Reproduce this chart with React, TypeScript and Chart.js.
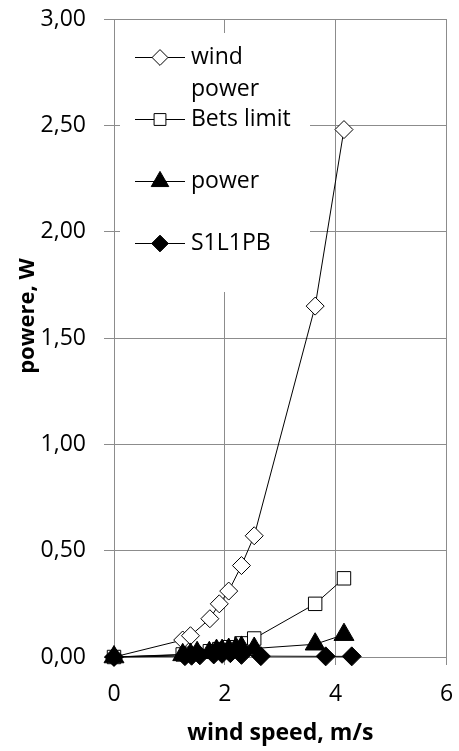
import React, { useEffect, useRef } from "react";
import { Chart, registerables } from "chart.js";
import { drawPoint } from "chart.js/helpers";

Chart.register(...registerables);

// Series values (wind speed in m/s, power in W)
const windPowerX = [0, 1.24, 1.38, 1.73, 1.9, 2.07, 2.3, 2.53, 3.63, 4.15];
const windPowerY = [0, 0.08, 0.1, 0.18, 0.25, 0.31, 0.43, 0.57, 1.65, 2.48];

const betsLimitX = [0, 1.24, 1.38, 1.73, 1.9, 2.07, 2.3, 2.53, 3.63, 4.15];
const betsLimitY = [0, 0.012, 0.015, 0.027, 0.037, 0.046, 0.064, 0.087, 0.25, 0.37];

const powerX = [0, 1.24, 1.38, 1.5, 1.72, 1.85, 1.95, 2.07, 2.2, 2.3, 2.53, 3.63, 4.15];
const powerY = [0, 0.01, 0.012, 0.02, 0.02, 0.03, 0.03, 0.035, 0.04, 0.045, 0.04, 0.06, 0.105];

const s1l1pbX = [0, 1.28, 1.4, 1.55, 1.8, 1.95, 2.1, 2.3, 2.65, 3.82, 4.29];
const s1l1pbY = [0, 0.004, 0.006, 0.008, 0.012, 0.015, 0.018, 0.01, 0.004, 0.003, 0.003];

const seriesNames = [["wind", "power"], ["Bets limit"], ["power"], ["S1L1PB"]];

const xTicks = [0, 2, 4, 6];
const yTicks = [0, 0.5, 1, 1.5, 2, 2.5, 3];

const xTitle = "wind speed, m/s";
const yTitle = "powere, W";

const FONT = "'Open Sans', Lato, sans-serif";
const GRID = "#8c8c8c";

const toPoints = (xs: number[], ys: number[]) => xs.map((x, i) => ({ x, y: ys[i] }));

// Boxed legend drawn inside the plot area, plus the rotated y-axis title
const overlayPlugin = {
  id: "overlay",
  afterDatasetsDraw(chart: any) {
    const ctx = chart.ctx as CanvasRenderingContext2D;
    ctx.save();
    ctx.fillStyle = "#ffffff";
    ctx.fillRect(120, 33, 190, 259);
    chart.data.datasets.forEach((ds: any, i: number) => {
      const cy = 57 + i * 62;
      ctx.strokeStyle = "#000";
      ctx.lineWidth = 1;
      ctx.beginPath();
      ctx.moveTo(135, cy + 0.5);
      ctx.lineTo(185, cy + 0.5);
      ctx.stroke();
      ctx.fillStyle = ds.pointBackgroundColor;
      ctx.strokeStyle = ds.pointBorderColor;
      drawPoint(
        ctx,
        { pointStyle: ds.pointStyle, radius: ds.pointRadius * 0.88, borderWidth: 1, rotation: 0 } as any,
        160,
        cy + 0.5
      );
      ctx.fillStyle = "#000";
      ctx.font = `23px ${FONT}`;
      ctx.textAlign = "left";
      ctx.textBaseline = "alphabetic";
      seriesNames[i].forEach((line, k) => {
        ctx.fillText(line, 191, cy + 7 + k * 32);
      });
    });
    ctx.restore();
  },
  afterDraw(chart: any) {
    const ctx = chart.ctx as CanvasRenderingContext2D;
    ctx.save();
    ctx.translate(28, 316);
    ctx.rotate(-Math.PI / 2);
    ctx.fillStyle = "#000";
    ctx.font = `bold 22px ${FONT}`;
    ctx.textAlign = "center";
    ctx.textBaseline = "middle";
    ctx.fillText(yTitle, 0, 0);
    ctx.restore();
  },
};

export default function App() {
  const canvasRef = useRef<HTMLCanvasElement | null>(null);

  useEffect(() => {
    if (!canvasRef.current) return;
    const common = {
      showLine: true,
      clip: false,
      borderColor: "#000",
      borderWidth: 1,
      pointBorderColor: "#000",
      pointBorderWidth: 1,
      pointHoverRadius: 0,
    };
    const chart = new Chart(canvasRef.current, {
      type: "scatter",
      data: {
        datasets: [
          {
            ...common,
            label: seriesNames[0].join(" "),
            data: toPoints(windPowerX, windPowerY),
            pointStyle: "rectRot",
            pointRadius: 9,
            pointBackgroundColor: "#fff",
            order: 3,
          },
          {
            ...common,
            label: seriesNames[1].join(" "),
            data: toPoints(betsLimitX, betsLimitY),
            pointStyle: "rect",
            pointRadius: 9.5,
            pointBackgroundColor: "#fff",
            order: 2,
          },
          {
            ...common,
            label: seriesNames[2].join(" "),
            data: toPoints(powerX, powerY),
            pointStyle: "triangle",
            pointRadius: 11.5,
            pointBackgroundColor: "#000",
            order: 1,
          },
          {
            ...common,
            label: seriesNames[3].join(" "),
            data: toPoints(s1l1pbX, s1l1pbY),
            pointStyle: "rectRot",
            pointRadius: 9.5,
            pointBackgroundColor: "#000",
            order: 0,
          },
        ] as any,
      },
      options: {
        animation: false,
        responsive: true,
        maintainAspectRatio: false,
        events: [],
        layout: { padding: { top: 19, right: 11, left: 0, bottom: 0 } },
        plugins: {
          legend: { display: false },
          tooltip: { enabled: false },
        },
        scales: {
          x: {
            type: "linear",
            min: 0,
            max: 6,
            afterBuildTicks: (s: any) => {
              s.ticks = xTicks.map((v) => ({ value: v }));
            },
            afterFit: (s: any) => {
              s.height = 94;
              s.paddingLeft = 0;
              s.paddingRight = 0;
            },
            grid: { color: GRID, lineWidth: 1, tickLength: 8, drawTicks: true },
            border: { color: GRID, width: 1 },
            ticks: {
              color: "#000",
              font: { family: FONT, size: 23 },
              padding: 16,
              callback: (v: any) => String(v),
            },
            title: {
              display: true,
              text: xTitle,
              color: "#000",
              font: { family: FONT, size: 23, weight: "bold" },
              padding: { top: 0, bottom: 4 },
            },
          },
          y: {
            type: "linear",
            min: 0,
            max: 3,
            afterBuildTicks: (s: any) => {
              s.ticks = yTicks.map((v) => ({ value: v }));
            },
            afterFit: (s: any) => {
              s.width = 114;
              s.paddingTop = 0;
              s.paddingBottom = 0;
            },
            grid: { color: GRID, lineWidth: 1, tickLength: 10, drawTicks: true },
            border: { color: GRID, width: 1 },
            ticks: {
              color: "#000",
              font: { family: FONT, size: 23 },
              padding: 18,
              callback: (v: any) => Number(v).toFixed(2).replace(".", ","),
            },
          },
        },
      } as any,
      plugins: [overlayPlugin],
    });
    return () => chart.destroy();
  }, []);

  return (
    <div style={{ position: "fixed", left: 0, top: 0, width: 459, height: 751, background: "#fff" }}>
      <canvas ref={canvasRef} />
    </div>
  );
}
